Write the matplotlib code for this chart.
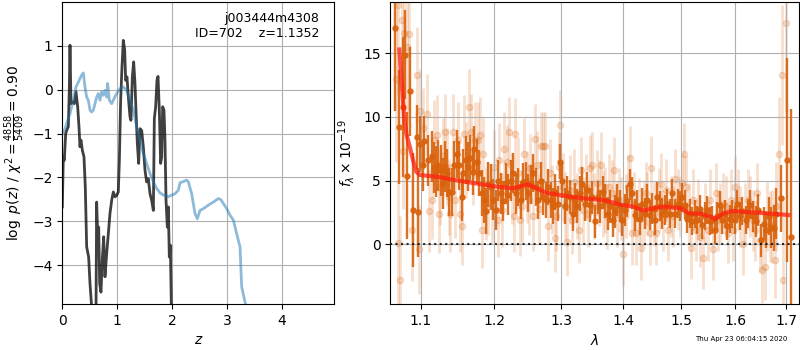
import matplotlib
matplotlib.use('Agg')
import matplotlib.pyplot as plt
from matplotlib.ticker import FixedLocator, FormatStrFormatter, NullLocator

# --- redshift fit: log p(z) and the scaled chi2 curve
z_pz = [0.000, 0.049, 0.079, 0.140, 0.201, 0.249, 0.292, 0.353, 0.383, 0.413,
        0.444, 0.474, 0.505, 0.535, 0.565, 0.596, 0.626, 0.657, 0.687, 0.717,
        0.748, 0.778, 0.809, 0.827, 0.857, 0.900, 0.930, 0.991, 1.052, 1.112,
        1.173, 1.234, 1.295, 1.356, 1.416, 1.477, 1.538, 1.599, 1.660, 1.720,
        1.781, 1.842, 1.933, 1.994, 2.055, 2.116, 2.146, 2.195, 2.267, 2.298,
        2.359, 2.419, 2.462, 2.511, 2.571, 2.663, 2.754, 2.845, 2.888, 2.936,
        2.997, 3.058, 3.119, 3.179, 3.240, 3.271, 3.331, 3.392]
log_pz = [-1.00, -0.89, -0.77, -0.55, -0.24, 0.06, 0.17, 0.33, 0.38, 0.06,
          -0.17, -0.24, -0.47, -0.51, -0.47, -0.32, -0.17, -0.09, -0.24, -0.05,
          -0.13, -0.02, -0.17, 0.14, -0.24, -0.32, -0.24, -0.09, 0.02, 0.06,
          -0.02, -0.24, -0.47, -0.85, -1.15, -1.46, -1.68, -1.91, -2.10, -2.25,
          -2.35, -2.40, -2.44, -2.40, -2.37, -2.29, -2.12, -2.10, -2.06, -2.10,
          -2.37, -2.82, -2.94, -2.75, -2.71, -2.63, -2.56, -2.48, -2.50, -2.59,
          -2.71, -2.86, -2.97, -3.28, -3.58, -4.49, -4.83, -5.20]

z_chi = [0.000, 0.018, 0.036, 0.061, 0.091, 0.109, 0.128, 0.140, 0.158, 0.188,
         0.219, 0.249, 0.280, 0.304, 0.322, 0.340, 0.365, 0.395, 0.419, 0.444,
         0.480, 0.505, 0.535, 0.560, 0.610, 0.626, 0.644, 0.663, 0.681, 0.705,
         0.729, 0.754, 0.778, 0.809, 0.839, 0.869, 0.900, 0.930, 0.961, 0.991,
         1.021, 1.040, 1.064, 1.088, 1.112, 1.137, 1.155, 1.179, 1.204, 1.234,
         1.252, 1.277, 1.301, 1.325, 1.343, 1.368, 1.392, 1.416, 1.447, 1.477,
         1.508, 1.538, 1.568, 1.599, 1.629, 1.660, 1.678, 1.702, 1.726, 1.745,
         1.769, 1.793, 1.812, 1.830, 1.854, 1.872, 1.891, 1.915, 1.933, 1.951,
         1.970, 1.988, 2.000]
chi_scaled = [-2.67, -1.53, -1.61, -1.00, -0.89, -0.85, 0.02, 1.01, -0.32, -0.28,
              -0.32, -0.05, -0.39, -0.85, -1.30, -1.15, -1.38, -1.53, -2.22, -3.58,
              -3.81, -4.42, -4.95, -6.00, -6.00, -2.56, -3.28, -3.13, -4.42, -4.61,
              -3.88, -3.35, -4.26, -3.73, -3.28, -2.82, -2.52, -2.33, -2.44, -2.41,
              -2.33, -1.61, -0.24, 0.52, 1.12, 0.90, 0.21, 0.29, -0.17, -0.62,
              -0.70, 0.29, 0.63, 0.14, -0.47, -1.23, -1.68, -0.89, -0.93, -1.30,
              -1.84, -2.10, -2.03, -2.37, -2.52, -2.75, -0.66, -0.39, 0.21, 0.30,
              -0.47, -1.68, -1.53, -0.39, -0.47, -1.15, -2.52, -3.13, -2.67, -3.81,
              -3.54, -4.95, -6.00]

# --- 1D spectrum (wavelength in micron, flux in 1e-19 cgs)
lam_dark = [1.0664, 1.0719, 1.0762, 1.0796, 1.0822, 1.0857, 1.0896, 1.0952, 1.0965, 1.0987,
            1.1022, 1.1044, 1.1097, 1.1141, 1.1176, 1.1199, 1.1230, 1.1265, 1.1297, 1.1319,
            1.1351, 1.1378, 1.1410, 1.1441, 1.1478, 1.1510, 1.1547, 1.1570, 1.1607, 1.1639,
            1.1662, 1.1699, 1.1718, 1.1755, 1.1793, 1.1826, 1.1858, 1.1887, 1.1920, 1.1953,
            1.1991, 1.2025, 1.2063, 1.2097, 1.2135, 1.2174, 1.2208, 1.2246, 1.2281, 1.2320,
            1.2354, 1.2388, 1.2427, 1.2467, 1.2501, 1.2541, 1.2576, 1.2616, 1.2651, 1.2686,
            1.2726, 1.2767, 1.2802, 1.2838, 1.2869, 1.2904, 1.2945, 1.2981, 1.3017, 1.3059,
            1.3095, 1.3137, 1.3179, 1.3216, 1.3253, 1.3295, 1.3332, 1.3374, 1.3412, 1.3454,
            1.3492, 1.3535, 1.3578, 1.3616, 1.3659, 1.3697, 1.3741, 1.3779, 1.3823, 1.3861,
            1.3900, 1.3944, 1.3983, 1.4027, 1.4066, 1.4111, 1.4150, 1.4195, 1.4235, 1.4280,
            1.4325, 1.4365, 1.4405, 1.4451, 1.4497, 1.4537, 1.4583, 1.4624, 1.4671, 1.4712,
            1.4753, 1.4800, 1.4847, 1.4888, 1.4936, 1.4977, 1.5025, 1.5067, 1.5109, 1.5157,
            1.5205, 1.5247, 1.5296, 1.5338, 1.5387, 1.5430, 1.5479, 1.5522, 1.5571, 1.5614,
            1.5664, 1.5708, 1.5758, 1.5801, 1.5852, 1.5896, 1.5946, 1.5991, 1.6035, 1.6086,
            1.6138, 1.6202, 1.6247, 1.6292, 1.6344, 1.6396, 1.6442, 1.6508, 1.6554, 1.6606,
            1.6659, 1.6706, 1.6759, 1.6806, 1.6895, 1.7028, 1.7105]
flux_dark = [17.0, 9.2, 10.8, 14.9, 5.4, 12.0, 2.7, 8.4, 2.5, 7.9,
             6.2, 8.1, 6.6, 6.9, 6.0, 5.7, 6.2, 5.8, 4.8, 6.1,
             5.6, 4.1, 4.1, 6.2, 7.1, 6.2, 3.7, 5.6, 6.6, 6.1,
             6.8, 5.7, 7.5, 6.5, 5.6, 4.0, 3.5, 2.6, 4.7, 4.5,
             3.5, 2.7, 5.0, 4.0, 3.4, 4.8, 3.9, 5.0, 5.6, 4.0,
             4.5, 3.5, 4.9, 5.0, 4.0, 4.7, 5.6, 4.5, 3.5, 5.0,
             3.7, 3.5, 4.5, 3.5, 3.0, 4.1, 3.2, 6.5, 5.0, 3.0,
             4.0, 3.7, 2.4, 3.5, 3.0, 4.0, 4.7, 3.2, 4.3, 3.1,
             3.7, 1.8, 3.7, 3.0, 4.1, 3.4, 2.4, 3.0, 1.9, 2.6,
             3.5, 3.0, 1.9, 2.7, 3.4, 4.7, 4.0, 2.3, 3.0, 2.0,
             3.2, 2.4, 3.5, 2.3, 2.8, 1.9, 3.7, 3.0, 2.4, 2.7,
             3.2, 2.4, 4.0, 2.4, 3.2, 3.0, 3.7, 3.1, 2.0, 2.4,
             1.8, 2.4, 1.9, 2.8, 1.5, 2.2, 2.7, 1.8, 1.9, 1.1,
             2.2, 3.1, 1.9, 2.4, 1.4, 2.0, 2.4, 1.9, 3.2, 2.2,
             2.6, 1.9, 2.4, 3.1, 2.2, 1.8, 2.7, 0.3, 1.6, 1.1,
             2.2, 1.3, 1.3, 2.4, 3.6, 6.6, 0.6]
err_dark = [6.5, 4.5, 5.5, 3.5, 5.0, 3.5, 4.5, 2.5, 3.5, 2.2,
            2.0, 2.0, 2.0, 2.0, 2.0, 2.0, 2.0, 2.0, 2.0, 2.0,
            1.9, 1.9, 1.9, 1.9, 1.9, 1.9, 1.9, 1.9, 1.9, 1.9,
            1.8, 1.8, 1.8, 1.8, 1.8, 1.8, 1.8, 1.8, 1.8, 1.8,
            1.6, 1.6, 1.6, 1.6, 1.6, 1.6, 1.6, 1.6, 1.6, 1.6,
            1.5, 1.5, 1.5, 1.5, 1.5, 1.5, 1.5, 1.5, 1.5, 1.5,
            1.4, 1.4, 1.4, 1.4, 1.4, 1.4, 1.4, 1.4, 1.4, 1.4,
            1.35, 1.35, 1.35, 1.35, 1.35, 1.35, 1.35, 1.35, 1.35, 1.35,
            1.3, 1.3, 1.3, 1.3, 1.3, 1.3, 1.3, 1.3, 1.3, 1.3,
            1.25, 1.25, 1.25, 1.25, 1.25, 1.25, 1.25, 1.25, 1.25, 1.25,
            1.2, 1.2, 1.2, 1.2, 1.2, 1.2, 1.2, 1.2, 1.2, 1.2,
            1.15, 1.15, 1.15, 1.15, 1.15, 1.15, 1.15, 1.15, 1.15, 1.15,
            1.1, 1.1, 1.1, 1.1, 1.1, 1.1, 1.1, 1.1, 1.1, 1.1,
            1.1, 1.1, 1.1, 1.1, 1.1, 1.1, 1.1, 1.1, 1.1, 1.1,
            1.1, 1.1, 1.15, 1.15, 1.2, 1.2, 1.25, 1.3, 1.3, 1.4,
            1.5, 1.6, 1.8, 2.0, 2.6, 8.0, 10.0]

lam_light = [1.0677, 1.0703, 1.0707, 1.0728, 1.0749, 1.0766, 1.0779, 1.0813, 1.0848, 1.0878,
             1.0952, 1.0969, 1.0987, 1.1031, 1.1075, 1.1110, 1.1141, 1.1172, 1.1207, 1.1234,
             1.1251, 1.1295, 1.1317, 1.1349, 1.1375, 1.1393, 1.1428, 1.1451, 1.1495, 1.1527,
             1.1554, 1.1585, 1.1608, 1.1644, 1.1676, 1.1708, 1.1736, 1.1768, 1.1801, 1.1829,
             1.1848, 1.1885, 1.1922, 1.1970, 1.2003, 1.2051, 1.2075, 1.2113, 1.2147, 1.2186,
             1.2220, 1.2259, 1.2284, 1.2308, 1.2343, 1.2378, 1.2407, 1.2442, 1.2477, 1.2507,
             1.2532, 1.2567, 1.2597, 1.2627, 1.2658, 1.2694, 1.2719, 1.2760, 1.2796, 1.2822,
             1.2863, 1.2899, 1.2925, 1.2966, 1.2987, 1.3028, 1.3065, 1.3091, 1.3137, 1.3174,
             1.3205, 1.3242, 1.3279, 1.3305, 1.3348, 1.3385, 1.3417, 1.3454, 1.3492, 1.3519,
             1.3562, 1.3600, 1.3627, 1.3670, 1.3697, 1.3724, 1.3763, 1.3806, 1.3845, 1.3889,
             1.3928, 1.3961, 1.4000, 1.4039, 1.4072, 1.4111, 1.4150, 1.4184, 1.4223, 1.4269,
             1.4308, 1.4348, 1.4382, 1.4411, 1.4451, 1.4480, 1.4520, 1.4566, 1.4613, 1.4642,
             1.4683, 1.4729, 1.4771, 1.4812, 1.4859, 1.4888, 1.4936, 1.4977, 1.5025, 1.5055,
             1.5097, 1.5145, 1.5187, 1.5217, 1.5265, 1.5308, 1.5350, 1.5399, 1.5442, 1.5491,
             1.5534, 1.5583, 1.5633, 1.5677, 1.5720, 1.5770, 1.5821, 1.5865, 1.5915, 1.5960,
             1.6004, 1.6055, 1.6099, 1.6151, 1.6196, 1.6247, 1.6292, 1.6344, 1.6389, 1.6428,
             1.6474, 1.6526, 1.6573, 1.6619, 1.6672, 1.6718, 1.6772, 1.6806, 1.6853, 1.6927,
             1.6941, 1.6994]
flux_light = [13.0, 0.1, 18.8, -2.8, 17.6, 7.3, 16.6, 15.5, 16.5, 1.1,
              13.3, -0.4, 10.5, 9.1, 10.2, 2.6, 3.5, 8.2, 8.6, 2.4,
              4.5, 6.9, 8.8, 6.1, 3.7, 2.4, 8.8, 3.5, 8.2, 2.4,
              1.4, 8.7, 6.6, 10.8, 8.8, 6.1, 8.2, 8.2, 8.6, 1.1,
              7.1, 3.2, 3.6, 3.0, 6.1, 1.9, 6.6, 2.7, 7.5, 6.5,
              8.8, 4.4, 2.2, 8.7, 5.6, 1.9, 3.0, 7.1, 4.5, 3.5,
              6.0, 2.2, 8.3, 6.2, 2.8, 7.7, 7.7, 7.7, 1.4, 5.6,
              3.5, 0.5, 2.2, 6.1, 9.4, 4.5, 3.0, 0.2, 4.3, 1.9,
              4.9, 3.0, 1.1, 5.8, 2.7, 4.5, 2.4, 6.0, 6.2, 3.0,
              4.8, 4.0, 6.2, 3.2, 3.5, 2.2, 4.5, 4.0, 5.8, 2.4,
              3.5, 2.8, -0.8, 3.0, 4.5, 6.8, 0.9, 3.2, 0.9, 2.7,
              -0.3, 2.4, 4.0, 3.2, 0.9, 6.0, 2.4, 0.9, 3.5, 4.7,
              1.9, 4.3, 1.1, 3.0, 2.2, 5.1, 3.5, 3.0, 4.8, 7.1,
              4.5, 2.4, -0.3, 3.5, 1.1, 2.7, 0.6, -1.1, 2.4, 1.1,
              3.5, -0.4, 4.0, 1.9, 2.4, 3.2, 3.0, 0.9, 3.5, 1.1,
              4.5, 3.5, 2.2, 0.0, 2.4, 3.5, 3.0, 1.9, 1.1, 4.0,
              0.3, -2.0, -1.8, 2.2, 1.4, 1.4, -1.2, 3.0, 7.1, 13.3,
              -2.8, 17.4]
err_light = [6.5, 5.0, 7.0, 5.0, 7.0, 4.5, 6.0, 6.0, 6.0, 4.0,
             3.8, 3.5, 3.3, 3.2, 3.2, 3.2, 3.1, 3.1, 3.1, 3.1,
             3.0, 3.0, 3.0, 3.0, 3.0, 3.0, 3.0, 3.0, 3.0, 3.0,
             3.0, 3.0, 3.0, 3.0, 3.0, 3.0, 3.0, 3.0, 3.0, 3.0,
             2.9, 2.9, 2.9, 2.9, 2.9, 2.9, 2.9, 2.9, 2.9, 2.9,
             2.8, 2.8, 2.8, 2.8, 2.8, 2.8, 2.8, 2.8, 2.8, 2.8,
             2.7, 2.7, 2.7, 2.7, 2.7, 2.7, 2.7, 2.7, 2.7, 2.7,
             2.7, 2.7, 2.7, 2.7, 2.7, 2.7, 2.7, 2.7, 2.7, 2.7,
             2.6, 2.6, 2.6, 2.6, 2.6, 2.6, 2.6, 2.6, 2.6, 2.6,
             2.6, 2.6, 2.6, 2.6, 2.6, 2.6, 2.6, 2.6, 2.6, 2.6,
             2.5, 2.5, 2.5, 2.5, 2.5, 2.5, 2.5, 2.5, 2.5, 2.5,
             2.5, 2.5, 2.5, 2.5, 2.5, 2.5, 2.5, 2.5, 2.5, 2.5,
             2.4, 2.4, 2.4, 2.4, 2.4, 2.4, 2.4, 2.4, 2.4, 2.4,
             2.4, 2.4, 2.4, 2.4, 2.4, 2.4, 2.4, 2.4, 2.4, 2.4,
             2.4, 2.4, 2.4, 2.4, 2.4, 2.4, 2.4, 2.4, 2.4, 2.4,
             2.4, 2.4, 2.4, 2.4, 2.4, 2.4, 2.4, 2.4, 2.4, 2.4,
             2.5, 2.6, 2.6, 2.7, 2.8, 2.9, 3.0, 3.5, 4.5, 5.5,
             6.5, 7.0]

# best-fit template model
lam_fit = [1.0720, 1.0753, 1.0778, 1.0809, 1.0852, 1.0896, 1.0939, 1.0983, 1.1225, 1.1449,
           1.1674, 1.2053, 1.2280, 1.2490, 1.2770, 1.3000, 1.3340, 1.3700, 1.3970, 1.4170,
           1.4340, 1.4520, 1.4700, 1.4995, 1.5140, 1.5360, 1.5570, 1.5620, 1.5780, 1.5940,
           1.6140, 1.6630, 1.7050]
flux_fit = [15.3, 12.4, 10.3, 8.7, 7.7, 6.6, 5.7, 5.44, 5.3, 5.05,
            4.84, 4.52, 4.40, 4.71, 4.05, 3.85, 3.62, 3.45, 3.10, 2.96,
            2.65, 2.83, 2.96, 2.83, 2.43, 2.40, 2.12, 1.98, 2.43, 2.62,
            2.56, 2.43, 2.30]

lam_ticks = [1.1, 1.2, 1.3, 1.4, 1.5, 1.6, 1.7]

fig = plt.figure(figsize=(8, 3.5), dpi=100)

# left: redshift PDF
ax = fig.add_axes([0.0779, 0.1314, 0.34, 0.8637])
ax.plot(z_chi, chi_scaled, color='k', alpha=0.75, lw=2)
ax.plot(z_pz, log_pz, color='tab:blue', alpha=0.5, lw=2)
ax.set_xlim(0, 4.96)
ax.set_ylim(-4.88, 2.0)
ax.set_xticks([0, 1, 2, 3, 4])
ax.set_yticks([-4, -3, -2, -1, 0, 1])
ax.grid()
ax.set_xlabel(r'$z$')
ax.set_ylabel(r'$\log\ p(z)$ / $\chi^2=\frac{4858}{5409}=0.90$')
ax.text(0.945, 0.965, 'j003444m4308\nID=702    z=1.1352', transform=ax.transAxes,
        ha='right', va='top', fontsize=9)

# right: 1D spectrum
ax2 = fig.add_axes([0.4879, 0.1314, 0.5113, 0.8637])
spec_color = '#d9620c'
ax2.errorbar(lam_light, flux_light, yerr=err_light, fmt='o', color=spec_color,
             alpha=0.2, ms=4.5, elinewidth=2.0, capsize=0, zorder=1)
ax2.errorbar(lam_dark, flux_dark, yerr=err_dark, fmt='o', color=spec_color,
             alpha=0.9, ms=3.6, elinewidth=1.7, capsize=0, zorder=2)
ax2.plot(lam_fit, flux_fit, color='#ff1f0f', alpha=0.75, lw=3, zorder=3)
ax2.axhline(0, color='k', ls=':', lw=1.5, alpha=0.8, zorder=4)

ax2.set_xscale('log')
ax2.set_xlim(1.0605, 1.7272)
ax2.set_ylim(-4.69, 19.05)
ax2.xaxis.set_major_locator(FixedLocator(lam_ticks))
ax2.xaxis.set_major_formatter(FormatStrFormatter('%.1f'))
ax2.xaxis.set_minor_locator(NullLocator())
ax2.set_yticks([0, 5, 10, 15])
ax2.grid()
ax2.set_xlabel(r'$\lambda$')
ax2.set_ylabel(r'$f_\lambda\times10^{-19}$')

fig.text(0.984, 0.031, 'Thu Apr 23 06:04:15 2020', ha='right', va='center', fontsize=5)

fig.savefig('out.png', dpi=100)
